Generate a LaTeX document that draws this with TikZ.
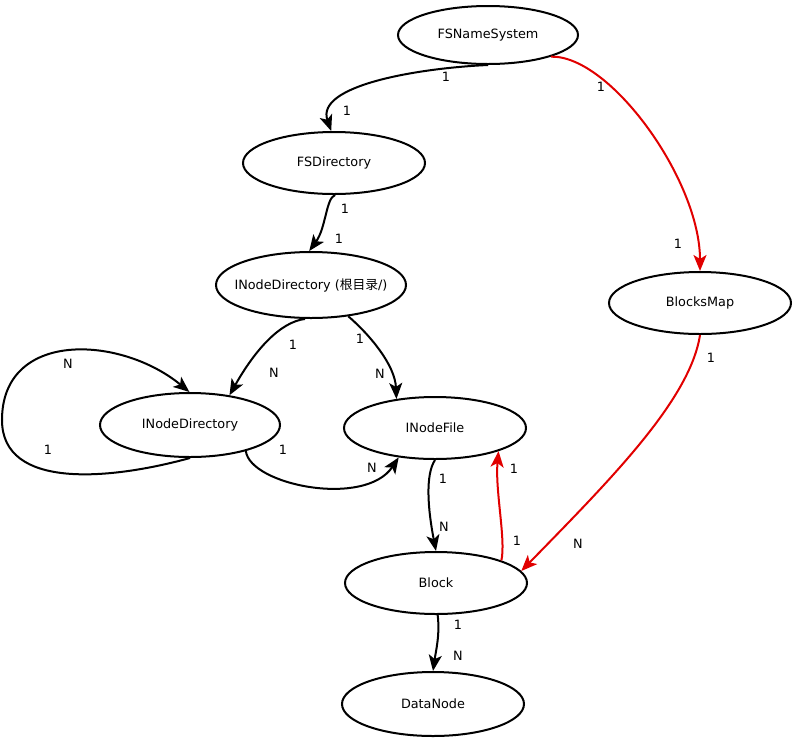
\documentclass[tikz,border=0pt]{standalone}
\usepackage{fontspec}
\usepackage{tikz}
\usetikzlibrary{shapes.geometric,arrows.meta}
\setmainfont{DejaVu Sans}
\newfontfamily\cjk{Noto Sans CJK SC}
\definecolor{linkred}{RGB}{225,0,0}

\begin{document}
\begin{tikzpicture}[x=1pt,y=-1pt,
  cls/.style={ellipse, draw, line width=2pt, inner sep=0pt,
    minimum width=182pt, minimum height=62pt},
  rel/.style={line width=2pt, -{Stealth[length=16pt,width=13pt,inset=4pt]}},
  redrel/.style={rel, linkred},
  lbl/.style={inner sep=0pt}]
\fontsize{12.8}{15}\selectfont

\useasboundingbox (0,0) rectangle (793,740);

% Classes
\node[cls, minimum width=180pt, minimum height=58pt] (fsn) at (488,35) {FSNameSystem};
\node[cls] (fsd) at (334,163) {FSDirectory};
\node[cls, minimum width=190pt, minimum height=66pt] (root) at (311,285)
  {\makebox[120pt]{INodeDirectory ({\cjk 根目录}/)}};
\node[cls] (bmap) at (700,303) {BlocksMap};
\node[cls, minimum width=180pt, minimum height=64pt] (ind) at (190,425) {INodeDirectory};
\node[cls] (inf) at (435,428) {INodeFile};
\node[cls] (blk) at (436,583) {Block};
\node[cls, minimum height=64pt] (dn) at (433,704) {DataNode};

% Black relations
\draw[rel] (fsn.-90) .. controls (420,68) and (315,85) .. (fsd.95);
\draw[rel] (fsd.-88) .. controls (326,198) and (326,228) .. (root.93);
\draw[rel] (root.-100) .. controls (280,322) and (255,350) .. (ind.37);
\draw[rel] (root.-40) .. controls (370,335) and (395,365) .. (inf.143);
\draw[rel] (ind.-90) .. controls (110,480) and (2,490) .. (2,420)
  .. controls (2,330) and (120,335) .. (ind.91);
\draw[rel] (ind.-25) .. controls (250,485) and (365,508) .. (inf.-141);
\draw[rel] (inf.-90) .. controls (425,475) and (428,510) .. (blk.north);
\draw[rel] (blk.-87) .. controls (440,635) and (436,650) .. (dn.north);

% Red relations
\draw[redrel] (fsn.-19) .. controls (610,55) and (700,180) .. (bmap.north);
\draw[redrel] (bmap.south) .. controls (690,400) and (610,480) .. (blk.8);
\draw[redrel] (blk.19) .. controls (506,540) and (495,490) .. (inf.-20);

% Multiplicities
\foreach \x/\y/\t [count=\i] in {446/77/1, 347/111/1, 601/87/1, 678/244/1,
    345/209/1, 339/239/1, 293/345/1, 274/373/N, 360/339/1, 380/374/N,
    68/364/N, 48/450/1, 283/450/1, 372/468/N, 443/479/1, 444/527/N,
    514/469/1, 517/541/1, 711/358/1, 578/544/N, 458/625/1, 458/656/N}
  \node[lbl] (m\i) at (\x,\y) {\t};

\end{tikzpicture}
\end{document}
